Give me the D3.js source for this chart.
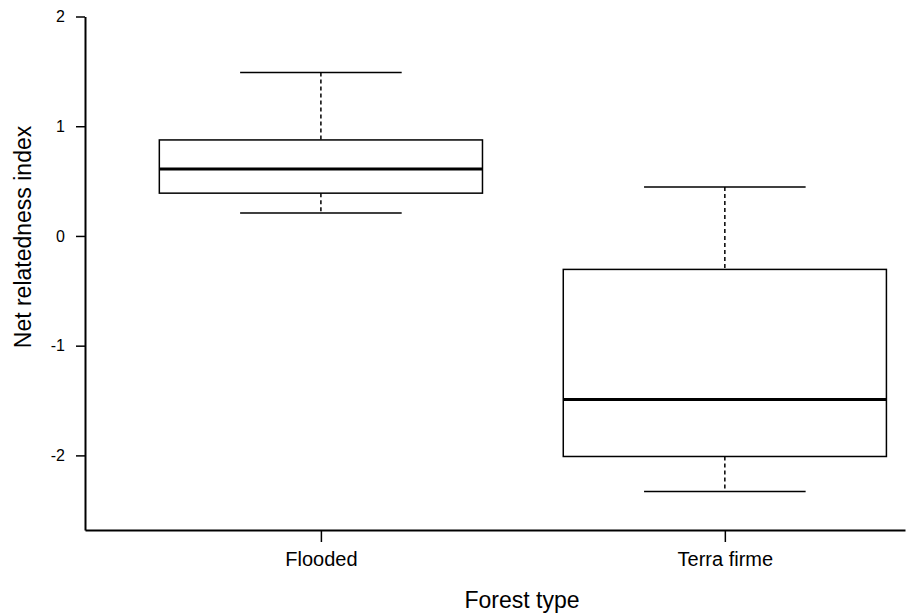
<!DOCTYPE html>
<html lang="en">
<head>
	<meta charset="utf-8">
	<title>Net relatedness index by forest type</title>
	<script src="https://d3js.org/d3.v7.min.js"></script>
	<style type="text/css">
		body { margin: 0; background: #fff; }
		svg text { font-family: "Liberation Sans", Arial, sans-serif; fill: #000; }
	</style>
</head>
<body>
	<div id="chart"></div>

<script type="text/javascript">
	var w = 914;
	var h = 615;

	// data
	var categories = ["Flooded", "Terra firme"];
	var whiskerHigh = [1.49, 0.445];
	var q3 = [0.875, -0.305];
	var medians = [0.61, -1.49];
	var q1 = [0.39, -2.01];
	var whiskerLow = [0.21, -2.33];
	var yTicks = [-2, -1, 0, 1, 2];

	var boxes = categories.map(function(c, i) {
		return { name: c, pos: i + 1, hi: whiskerHigh[i], q3: q3[i], med: medians[i], q1: q1[i], lo: whiskerLow[i] };
	});

	var svg = d3.select("#chart")
		.append("svg")
		.attr("width", w)
		.attr("height", h);

	var x = d3.scaleLinear().domain([0.416, 2.446]).range([85, 905]);
	var y = d3.scaleLinear().domain([-2.68, 2]).range([530, 16.5]);

	var boxHalf = 0.4, capHalf = 0.2;

	// y axis
	var yAxis = svg.append("g")
		.attr("transform", "translate(85,0)")
		.call(d3.axisLeft(y).tickValues(yTicks).tickSize(9).tickSizeOuter(0).tickPadding(11)
			.tickFormat(function(d) { return String(d); }));
	yAxis.select(".domain").attr("stroke-width", 2);
	yAxis.selectAll(".tick line").attr("stroke-width", 1.5);
	yAxis.selectAll(".tick text").style("font-size", "16px");

	// x axis
	var xAxis = svg.append("g")
		.attr("transform", "translate(0,530)")
		.call(d3.axisBottom(x).tickValues(boxes.map(function(d) { return d.pos; }))
			.tickSize(12).tickSizeOuter(0).tickPadding(10)
			.tickFormat(function(d) { return categories[d - 1]; }));
	xAxis.select(".domain").attr("stroke-width", 2.2);
	xAxis.selectAll(".tick line").attr("stroke-width", 1.5);
	xAxis.selectAll(".tick text").style("font-size", "20px");

	// boxes and whiskers
	var g = svg.selectAll("g.box")
		.data(boxes)
		.enter()
		.append("g")
		.attr("class", "box");

	g.append("line")
		.attr("x1", function(d) { return x(d.pos); })
		.attr("x2", function(d) { return x(d.pos); })
		.attr("y1", function(d) { return y(d.hi); })
		.attr("y2", function(d) { return y(d.q3); })
		.attr("stroke", "#000").attr("stroke-width", 1.5).attr("stroke-dasharray", "4,3");

	g.append("line")
		.attr("x1", function(d) { return x(d.pos); })
		.attr("x2", function(d) { return x(d.pos); })
		.attr("y1", function(d) { return y(d.q1); })
		.attr("y2", function(d) { return y(d.lo); })
		.attr("stroke", "#000").attr("stroke-width", 1.5).attr("stroke-dasharray", "4,3");

	g.selectAll("line.cap")
		.data(function(d) { return [{ pos: d.pos, v: d.hi }, { pos: d.pos, v: d.lo }]; })
		.enter()
		.append("line")
		.attr("class", "cap")
		.attr("x1", function(d) { return x(d.pos - capHalf); })
		.attr("x2", function(d) { return x(d.pos + capHalf); })
		.attr("y1", function(d) { return y(d.v); })
		.attr("y2", function(d) { return y(d.v); })
		.attr("stroke", "#000").attr("stroke-width", 1.5);

	g.append("rect")
		.attr("x", function(d) { return x(d.pos - boxHalf); })
		.attr("width", function(d) { return x(d.pos + boxHalf) - x(d.pos - boxHalf); })
		.attr("y", function(d) { return y(d.q3); })
		.attr("height", function(d) { return y(d.q1) - y(d.q3); })
		.attr("fill", "#fff").attr("stroke", "#000").attr("stroke-width", 1.5);

	g.append("line")
		.attr("x1", function(d) { return x(d.pos - boxHalf); })
		.attr("x2", function(d) { return x(d.pos + boxHalf); })
		.attr("y1", function(d) { return y(d.med); })
		.attr("y2", function(d) { return y(d.med); })
		.attr("stroke", "#000").attr("stroke-width", 3);

	// axis titles
	svg.append("text")
		.attr("x", 522)
		.attr("y", 608)
		.attr("text-anchor", "middle")
		.style("font-size", "23px")
		.text("Forest type");

	svg.append("text")
		.attr("transform", "translate(31,237) rotate(-90)")
		.attr("text-anchor", "middle")
		.style("font-size", "23px")
		.text("Net relatedness index");
</script>
</body>
</html>
